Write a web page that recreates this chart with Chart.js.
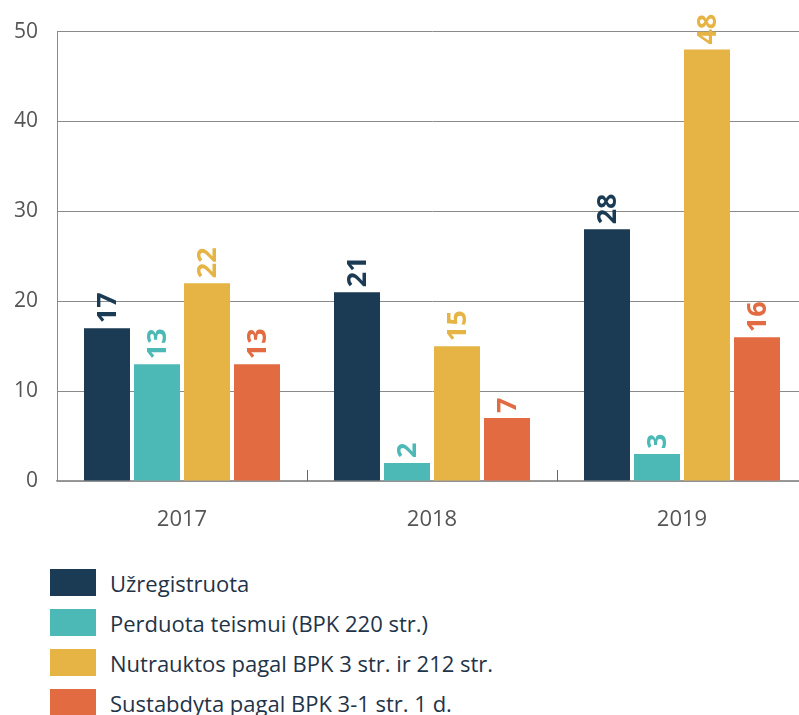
<!DOCTYPE html>
<html>
<head>
<meta charset="utf-8">
<script src="https://cdn.jsdelivr.net/npm/chart.js@4.4.1/dist/chart.umd.min.js"></script>
<style>
  html, body { margin: 0; padding: 0; background: #fff; overflow: hidden; }
  #wrap { position: relative; width: 799px; height: 715px; overflow: hidden; }
  #box { position: absolute; left: 0; top: 0; width: 808px; height: 567px; }
  #legenda { position: absolute; left: 50px; top: 569px; font-family: "Open Sans", sans-serif; font-size: 22px; color: #1f3448; }
  .eil { display: flex; align-items: center; height: 27px; margin-bottom: 13px; }
  .kv { width: 46px; height: 27px; margin-right: 14px; }
</style>
</head>
<body>
<div id="wrap">
  <div id="box"><canvas id="grafikas"></canvas></div>
  <div id="legenda"></div>
</div>
<script>
const metai = ['2017', '2018', '2019'];
const pavadinimai = [
  'Užregistruota',
  'Perduota teismui (BPK 220 str.)',
  'Nutrauktos pagal BPK 3 str. ir 212 str.',
  'Sustabdyta pagal BPK 3-1 str. 1 d.'
];
const uzregistruota = [17, 21, 28];
const perduota = [13, 2, 3];
const nutrauktos = [22, 15, 48];
const sustabdyta = [13, 7, 16];
const spalvos = ['#1b3a53', '#4cb9b7', '#e6b445', '#e26b42'];
const yTicks = [0, 10, 20, 30, 40, 50];

const reiksmes = [uzregistruota, perduota, nutrauktos, sustabdyta];

// skaiciai virs stulpeliu, pasukti
const etiketes = {
  id: 'etiketes',
  afterDatasetsDraw(chart) {
    const ctx = chart.ctx;
    ctx.save();
    ctx.font = 'bold 27px "Open Sans", sans-serif';
    ctx.textAlign = 'left';
    ctx.textBaseline = 'middle';
    chart.data.datasets.forEach((ds, i) => {
      const meta = chart.getDatasetMeta(i);
      meta.data.forEach((bar, j) => {
        ctx.save();
        ctx.translate(bar.x + 1, bar.y - 5);
        ctx.rotate(-Math.PI / 2);
        ctx.fillStyle = ds.backgroundColor;
        ctx.fillText(ds.data[j], 0, 0);
        ctx.restore();
      });
    });
    ctx.restore();
  }
};

// mazi bruksneliai tarp kategoriju
const bruksneliai = {
  id: 'bruksneliai',
  afterDraw(chart) {
    const x = chart.scales.x;
    const apacia = chart.chartArea.bottom;
    const ctx = chart.ctx;
    ctx.save();
    ctx.strokeStyle = '#666';
    ctx.lineWidth = 1;
    for (let i = 1; i < metai.length; i++) {
      const px = Math.round((x.getPixelForValue(i - 1) + x.getPixelForValue(i)) / 2) + 0.5;
      ctx.beginPath();
      ctx.moveTo(px, apacia - 11);
      ctx.lineTo(px, apacia);
      ctx.stroke();
    }
    ctx.restore();
  }
};

const ctx = document.getElementById('grafikas').getContext('2d');
const grafikas = new Chart(ctx, {
  type: 'bar',
  data: {
    labels: metai,
    datasets: reiksmes.map((d, i) => ({
      label: pavadinimai[i],
      data: d,
      backgroundColor: spalvos[i],
      barPercentage: 0.92,
      categoryPercentage: 0.8
    }))
  },
  options: {
    responsive: true,
    maintainAspectRatio: false,
    animation: false,
    layout: { padding: { top: 31, left: 0, right: 1, bottom: 0 } },
    plugins: {
      legend: { display: false },
      tooltip: { enabled: false }
    },
    scales: {
      x: {
        afterFit: (axis) => { axis.height = 86; },
        grid: { display: false },
        border: { color: '#999', width: 1.5 },
        ticks: { color: '#555', padding: 18, font: { family: '"Open Sans", sans-serif', size: 22 } }
      },
      y: {
        min: 0,
        max: 50,
        afterFit: (axis) => { axis.width = 57; },
        afterBuildTicks: (axis) => { axis.ticks = yTicks.map(v => ({ value: v })); },
        grid: { color: '#8a8a8a', drawTicks: false },
        border: { color: '#8a8a8a' },
        ticks: { color: '#555', padding: 19, font: { family: '"Open Sans", sans-serif', size: 21 } }
      }
    }
  },
  plugins: [etiketes, bruksneliai]
});

// legenda is duomenu
const legenda = document.getElementById('legenda');
grafikas.data.datasets.forEach(ds => {
  const eil = document.createElement('div');
  eil.className = 'eil';
  const kv = document.createElement('div');
  kv.className = 'kv';
  kv.style.background = ds.backgroundColor;
  const t = document.createElement('span');
  t.textContent = ds.label;
  eil.appendChild(kv);
  eil.appendChild(t);
  legenda.appendChild(eil);
});
</script>
</body>
</html>
